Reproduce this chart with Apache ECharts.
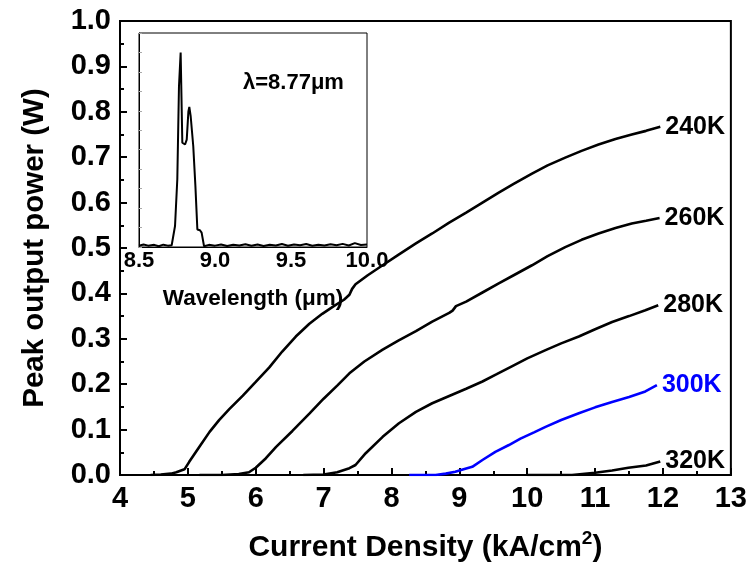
<!DOCTYPE html>
<html>
<head>
<meta charset="utf-8">
<script src="https://cdn.jsdelivr.net/npm/echarts@6/dist/echarts.min.js"></script>
<style>
  html, body { margin: 0; padding: 0; background: #fff; }
  #chart { width: 750px; height: 574px; }
</style>
</head>
<body>
<div id="chart"></div>
<script>
// Light–current curves of the laser at several heat-sink temperatures
const j240 = [4.45, 4.6, 4.75, 4.83, 4.95, 5.02, 5.17, 5.32, 5.46, 5.61, 5.81, 6.00, 6.20, 6.39, 6.59, 6.79, 6.98, 7.15, 7.30, 7.38, 7.42, 7.47, 7.65, 7.87, 8.10, 8.36, 8.60, 8.85, 9.10, 9.34, 9.58, 9.80, 10.07, 10.30, 10.56, 10.80, 11.05, 11.30, 11.54, 11.75, 11.96];
const p240 = [0, 0.001, 0.003, 0.006, 0.0125, 0.029, 0.062, 0.095, 0.121, 0.145, 0.175, 0.205, 0.237, 0.272, 0.305, 0.333, 0.355, 0.372, 0.386, 0.397, 0.410, 0.420, 0.440, 0.462, 0.485, 0.510, 0.532, 0.556, 0.578, 0.600, 0.622, 0.641, 0.664, 0.682, 0.699, 0.714, 0.728, 0.740, 0.750, 0.758, 0.767];

const j260 = [5.17, 5.50, 5.75, 5.90, 5.95, 6.00, 6.15, 6.30, 6.54, 6.79, 7.00, 7.20, 7.38, 7.60, 7.87, 8.10, 8.36, 8.60, 8.85, 8.90, 8.95, 9.10, 9.34, 9.58, 9.80, 10.07, 10.30, 10.56, 10.80, 11.05, 11.30, 11.54, 11.75, 11.95];
const p260 = [0, 0, 0.002, 0.006, 0.011, 0.016, 0.037, 0.062, 0.097, 0.135, 0.168, 0.197, 0.224, 0.250, 0.276, 0.296, 0.317, 0.338, 0.357, 0.362, 0.372, 0.382, 0.402, 0.422, 0.440, 0.462, 0.482, 0.502, 0.518, 0.532, 0.544, 0.554, 0.560, 0.566];

const j280 = [6.70, 7.00, 7.20, 7.38, 7.47, 7.62, 7.87, 8.11, 8.36, 8.60, 8.85, 9.10, 9.34, 9.55, 9.78, 10.00, 10.27, 10.50, 10.76, 11.00, 11.25, 11.50, 11.74, 11.93];
const p280 = [0, 0.001, 0.006, 0.015, 0.022, 0.048, 0.084, 0.114, 0.139, 0.158, 0.174, 0.190, 0.206, 0.222, 0.240, 0.257, 0.275, 0.290, 0.305, 0.321, 0.337, 0.350, 0.363, 0.374];

const j300 = [8.26, 8.50, 8.65, 8.80, 8.94, 9.05, 9.19, 9.34, 9.53, 9.73, 9.90, 10.10, 10.27, 10.50, 10.76, 11.00, 11.25, 11.50, 11.74, 11.91];
const p300 = [0, 0, 0, 0.003, 0.007, 0.012, 0.018, 0.033, 0.051, 0.066, 0.080, 0.094, 0.106, 0.121, 0.136, 0.149, 0.161, 0.172, 0.184, 0.198];

const j320 = [10.00, 10.40, 10.66, 11.00, 11.25, 11.49, 11.75, 11.96];
const p320 = [0, 0, 0, 0.005, 0.010, 0.016, 0.021, 0.030];

const curveLabels = ['240K', '260K', '280K', '300K', '320K'];
const curveColors = ['#000000', '#000000', '#000000', '#0000ff', '#000000'];

// Emission spectrum (normalized intensity)
const wavelength = [8.50, 8.53, 8.56, 8.60, 8.63, 8.66, 8.69, 8.715, 8.737, 8.752, 8.763, 8.774, 8.785, 8.795, 8.803, 8.814, 8.825, 8.831, 8.840, 8.857, 8.871, 8.884, 8.892, 8.901, 8.912, 8.928, 8.96, 9.00, 9.04, 9.08, 9.12, 9.16, 9.20, 9.24, 9.28, 9.32, 9.36, 9.40, 9.44, 9.48, 9.52, 9.56, 9.60, 9.64, 9.68, 9.72, 9.76, 9.80, 9.84, 9.88, 9.92, 9.96, 10.00];
const intensity = [0.006, 0.013, 0.007, 0.011, 0.004, 0.012, 0.007, 0.009, 0.108, 0.348, 0.826, 1.000, 0.536, 0.530, 0.527, 0.552, 0.697, 0.720, 0.672, 0.518, 0.314, 0.090, 0.088, 0.086, 0.074, 0.004, 0.011, 0.007, 0.013, 0.005, 0.012, 0.008, 0.014, 0.006, 0.013, 0.005, 0.012, 0.008, 0.015, 0.006, 0.013, 0.009, 0.015, 0.006, 0.012, 0.008, 0.014, 0.009, 0.016, 0.008, 0.020, 0.010, 0.013];

const xTicks = { min: 4, max: 13, interval: 1 };
const yTicks = { min: 0, max: 1, interval: 0.1 };
const wlTicks = { min: 8.5, max: 10, interval: 0.5 };

const FONT = 'Liberation Sans, Arial, sans-serif';
const zip = (a, b) => a.map((v, i) => [v, b[i]]);

const curves = [[j240, p240], [j260, p260], [j280, p280], [j300, p300], [j320, p320]];

const chart = echarts.init(document.getElementById('chart'), null, { renderer: 'canvas' });

const lineSeries = curves.map((c, i) => ({
  type: 'line',
  xAxisIndex: 0,
  yAxisIndex: 0,
  data: zip(c[0], c[1]),
  showSymbol: false,
  symbol: 'none',
  lineStyle: { color: curveColors[i], width: 2.6 },
  endLabel: {
    show: true,
    formatter: curveLabels[i],
    color: curveColors[i],
    fontFamily: FONT,
    fontWeight: 'bold',
    fontSize: 25,
    distance: 5
  },
  z: 3
}));

chart.setOption({
  animation: false,
  backgroundColor: '#ffffff',
  textStyle: { fontFamily: FONT },
  grid: [
    { left: 120, top: 21, width: 612, height: 454, show: true, borderColor: '#000', borderWidth: 2, backgroundColor: 'transparent' },
    { left: 139, top: 33, width: 228, height: 214, show: true, borderColor: '#000', borderWidth: 1, backgroundColor: '#fff', z: 5 }
  ],
  xAxis: [
    {
      type: 'value', gridIndex: 0,
      min: xTicks.min, max: xTicks.max, interval: xTicks.interval,
      name: 'Current Density (kA/cm{sup|2})',
      nameLocation: 'middle', nameGap: 54,
      nameTextStyle: {
        color: '#000', fontFamily: FONT, fontWeight: 'bold', fontSize: 30,
        rich: { sup: { fontFamily: FONT, fontWeight: 'bold', fontSize: 19, verticalAlign: 'bottom', padding: [0, 0, 19, 0] } }
      },
      axisLine: { lineStyle: { color: '#000', width: 2 } },
      axisTick: { inside: true, length: 7, lineStyle: { color: '#000', width: 2 } },
      minorTick: { show: true, splitNumber: 2, length: 4, lineStyle: { color: '#000', width: 2 } },
      splitLine: { show: false },
      axisLabel: { color: '#000', fontFamily: FONT, fontWeight: 'bold', fontSize: 29, margin: 9 }
    },
    {
      type: 'value', gridIndex: 1,
      min: wlTicks.min, max: wlTicks.max, interval: wlTicks.interval,
      name: 'Wavelength (μm)',
      nameLocation: 'middle', nameGap: 40,
      nameTextStyle: { color: '#000', fontFamily: FONT, fontWeight: 'bold', fontSize: 22.5 },
      axisLine: { lineStyle: { color: '#000', width: 1 } },
      axisTick: { show: false },
      splitLine: { show: false },
      axisLabel: { color: '#000', fontFamily: FONT, fontWeight: 'bold', fontSize: 22, margin: 3, formatter: v => v.toFixed(1) },
      z: 5
    }
  ],
  yAxis: [
    {
      type: 'value', gridIndex: 0,
      min: yTicks.min, max: yTicks.max, interval: yTicks.interval,
      name: 'Peak output power (W)',
      nameLocation: 'middle', nameGap: 70,
      nameTextStyle: { color: '#000', fontFamily: FONT, fontWeight: 'bold', fontSize: 29.5 },
      axisLine: { lineStyle: { color: '#000', width: 2 } },
      axisTick: { inside: true, length: 7, lineStyle: { color: '#000', width: 2 } },
      minorTick: { show: true, splitNumber: 2, length: 4, lineStyle: { color: '#000', width: 2 } },
      splitLine: { show: false },
      axisLabel: { color: '#000', fontFamily: FONT, fontWeight: 'bold', fontSize: 29, margin: 9, formatter: v => v.toFixed(1) }
    },
    {
      type: 'value', gridIndex: 1,
      min: 0, max: 1.1, interval: 0.1,
      axisLine: { lineStyle: { color: '#000', width: 1 } },
      axisTick: { inside: true, length: 3, lineStyle: { color: '#aaa', width: 1 } },
      axisLabel: { show: false },
      splitLine: { show: false },
      z: 5
    }
  ],
  graphic: [
    {
      type: 'text', left: 243, top: 72, z: 10,
      style: { text: 'λ=8.77μm', fill: '#000', font: 'bold 22px ' + FONT }
    }
  ],
  series: lineSeries.concat([
    {
      type: 'line',
      xAxisIndex: 1,
      yAxisIndex: 1,
      data: zip(wavelength, intensity),
      showSymbol: false,
      symbol: 'none',
      lineStyle: { color: '#000', width: 2 },
      z: 6
    }
  ])
});
</script>
</body>
</html>
